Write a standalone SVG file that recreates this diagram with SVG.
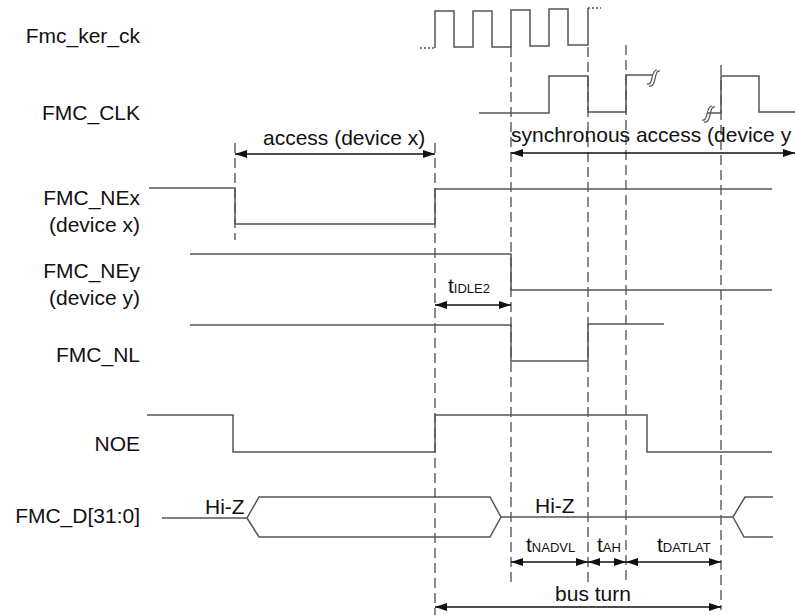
<svg xmlns="http://www.w3.org/2000/svg" width="795" height="615" viewBox="0 0 795 615">
<style>
.lbl{font-family:"Liberation Sans",Arial,sans-serif;font-size:21px;fill:#111}
.sub{font-size:13px}
.sig{fill:none;stroke:#555;stroke-width:1.5}
.brk{fill:none;stroke:#555;stroke-width:1.2}
.dot{fill:none;stroke:#555;stroke-width:1.5;stroke-dasharray:2 2}
.dash{fill:none;stroke:#666;stroke-width:1.5;stroke-dasharray:10 5}
.arr{fill:none;stroke:#111;stroke-width:1.5;marker-start:url(#ah);marker-end:url(#ah)}
</style>
<defs>
<marker id="ah" viewBox="0 0 12 8" refX="12" refY="4" markerWidth="12" markerHeight="8" markerUnits="userSpaceOnUse" orient="auto-start-reverse">
<path d="M0,0 L12,4 L0,8 Z" fill="#111"/>
</marker>
</defs>
<rect width="795" height="615" fill="#fff"/>

<g id="labels">
<text class="lbl" x="140" y="43" text-anchor="end">Fmc_ker_ck</text>
<text class="lbl" x="140" y="120" text-anchor="end">FMC_CLK</text>
<text class="lbl" x="140" y="205" text-anchor="end">FMC_NEx</text>
<text class="lbl" x="140" y="232" text-anchor="end">(device x)</text>
<text class="lbl" x="140" y="278" text-anchor="end">FMC_NEy</text>
<text class="lbl" x="140" y="305" text-anchor="end">(device y)</text>
<text class="lbl" x="140" y="362" text-anchor="end">FMC_NL</text>
<text class="lbl" x="140" y="451" text-anchor="end">NOE</text>
<text class="lbl" x="140" y="523" text-anchor="end">FMC_D[31:0]</text>
</g>

<g id="connectors">
<line class="dash" x1="235" y1="143" x2="235" y2="240"/>
<line class="dash" x1="435" y1="143" x2="435" y2="615"/>
<line class="dash" x1="511" y1="47" x2="511" y2="583"/>
<line class="dash" x1="588" y1="47" x2="588" y2="583"/>
<line class="dash" x1="626" y1="45" x2="626" y2="583"/>
<line class="dash" x1="721" y1="65" x2="721" y2="610"/>
<line class="arr" x1="235" y1="154" x2="435" y2="154"/>
<line class="arr" x1="511" y1="153" x2="795" y2="153"/>
<line class="arr" x1="435" y1="305" x2="511" y2="305"/>
<line class="arr" x1="511" y1="562" x2="588" y2="562"/>
<line class="arr" x1="588" y1="562" x2="626" y2="562"/>
<line class="arr" x1="626" y1="562" x2="721" y2="562"/>
<line class="arr" x1="435" y1="607" x2="721" y2="607"/>
<text class="lbl" x="263" y="145">access (device x)</text>
<text class="lbl" x="511" y="142">synchronous access (device y</text>
<text class="lbl" x="448" y="293">t<tspan class="sub">IDLE2</tspan></text>
<text class="lbl" x="526" y="552">t<tspan class="sub">NADVL</tspan></text>
<text class="lbl" x="597" y="552">t<tspan class="sub">AH</tspan></text>
<text class="lbl" x="657" y="552">t<tspan class="sub">DATLAT</tspan></text>
<text class="lbl" x="593" y="601" text-anchor="middle">bus turn</text>
</g>

<g id="fmc_ker_ck">
<path class="dot" d="M420,48 H435"/>
<path class="sig" d="M435,48 V11 H454 V47 H473 V11 H492 V47 H511 V10 H530 V46 H549 V9 H568 V45 H588 V8"/>
<path class="dot" d="M588,8 H601"/>
</g>

<g id="fmc_clk">
<path class="sig" d="M479,113 H549 V76 H588 V112 H626 V75 H653"/>
<path class="brk" d="M647,84 C650,85 651,82 652,78 C653,73 654,70 657,70"/>
<path class="brk" d="M649,86 C653,87 654,83 655,79 C656,74 657,70 660,71"/>
<path class="sig" d="M707,113 H721 V76 H759 V112 H795"/>
<path class="brk" d="M702,120 C705,121 706,118 707,114 C708,109 709,106 712,106"/>
<path class="brk" d="M704,122 C708,123 709,119 710,115 C711,110 712,106 715,107"/>
</g>

<g id="fmc_nex">
<path class="sig" d="M149,188 H235 V224 H435 V189 H772"/>
</g>

<g id="fmc_ney">
<path class="sig" d="M190,254 H511 V290 H772"/>
</g>

<g id="fmc_nl">
<path class="sig" d="M190,325 H511 V361 H588 V324 H664"/>
</g>

<g id="noe">
<path class="sig" d="M147,415 H233 V452 H435 V415 H647 V452 H772"/>
</g>

<g id="fmc_d">
<path class="sig" d="M162,518 H247 L259,497 H490 L501,517 L490,537 H259 L247,518"/>
<path class="sig" d="M501,517 H733 L745,497 H773 M733,517 L744,537 H773"/>
<text class="lbl" x="205" y="514">Hi-Z</text>
<text class="lbl" x="535" y="513">Hi-Z</text>
</g>
</svg>
